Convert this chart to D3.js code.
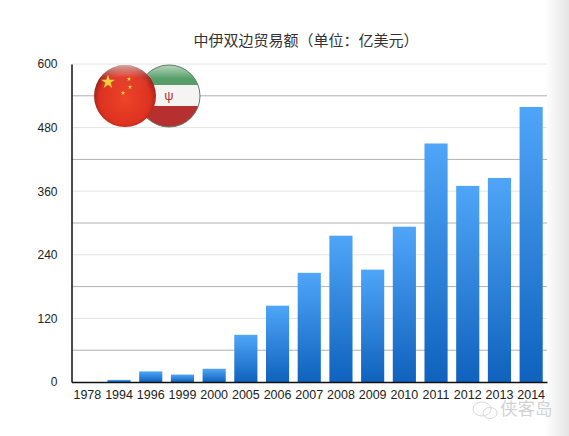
<!DOCTYPE html>
<html>
<head>
<meta charset="utf-8" />
<title>中伊双边贸易额</title>
<script src="https://d3js.org/d3.v7.min.js"></script>
<style>
	html, body { margin: 0; padding: 0; background: #fff; overflow: hidden; }
	text { font-family: "Liberation Sans", "Noto Sans CJK SC", sans-serif; }
</style>
</head>
<body>
<svg id="chart" width="569" height="436"></svg>
<script>
var years = ['1978', '1994', '1996', '1999', '2000', '2005', '2006', '2007', '2008', '2009', '2010', '2011', '2012', '2013', '2014'];
var trade = [0, 4, 20, 14, 25, 89, 144, 206, 276, 212, 293, 450, 370, 385, 519];
var yTicks = [0, 120, 240, 360, 480, 600];
var darkLines = [60, 180, 300, 420, 540];
var lightLines = [120, 240, 360, 480, 600];

var svg = d3.select('#chart');
var defs = svg.append('defs');

var plotLeft = 71.5, plotRight = 547, plotTop = 64, plotBottom = 382;
var x = d3.scaleBand().domain(years).range([plotLeft, plotRight]).paddingInner(0.27).paddingOuter(0.135);
var y = d3.scaleLinear().domain([0, 600]).range([plotBottom, plotTop]);

function gradient(id, stops, x2, y2) {
	var g = defs.append('linearGradient').attr('id', id)
		.attr('x1', 0).attr('y1', 0).attr('x2', x2).attr('y2', y2);
	stops.forEach(function (s) {
		g.append('stop').attr('offset', s[0]).attr('stop-color', s[1]).attr('stop-opacity', s[2] === undefined ? 1 : s[2]);
	});
}

gradient('barFill', [[0, '#4fa6f8'], [1, '#0f62bd']], 0, 1);
gradient('strip', [[0, '#ffffff'], [1, '#e4e4e4']], 1, 0);
gradient('gloss', [[0, '#ffffff', 0.6], [0.45, '#ffffff', 0.05], [1, '#ffffff', 0]], 0, 1);

var cnGlow = defs.append('radialGradient').attr('id', 'cnBall').attr('cx', 0.5).attr('cy', 0.55).attr('r', 0.55);
cnGlow.append('stop').attr('offset', 0).attr('stop-color', '#ee4429');
cnGlow.append('stop').attr('offset', 0.75).attr('stop-color', '#dc3220');
cnGlow.append('stop').attr('offset', 1).attr('stop-color', '#8e1d18');

// grey strip down the right edge of the page
svg.append('rect').attr('x', 545).attr('y', 0).attr('width', 24).attr('height', 436).attr('fill', 'url(#strip)');

svg.append('text').attr('x', 306).attr('y', 46).attr('text-anchor', 'middle')
	.attr('font-size', 15).attr('fill', '#333').text('中伊双边贸易额（单位：亿美元）');

// grid
svg.append('g').selectAll('line').data(lightLines).enter().append('line')
	.attr('x1', plotLeft).attr('x2', plotRight).attr('y1', y).attr('y2', y)
	.attr('stroke', '#e4e4e4').attr('stroke-width', 1);
svg.append('g').selectAll('line').data(darkLines).enter().append('line')
	.attr('x1', plotLeft).attr('x2', plotRight).attr('y1', y).attr('y2', y)
	.attr('stroke', '#b0b0b0').attr('stroke-width', 1);

// bars
svg.append('g').selectAll('rect').data(trade).enter().append('rect')
	.attr('x', function (d, i) { return x(years[i]); })
	.attr('y', y)
	.attr('width', x.bandwidth())
	.attr('height', function (d) { return plotBottom - y(d); })
	.attr('fill', 'url(#barFill)');

// axes
var yAxis = d3.axisLeft(y).tickValues(yTicks).tickSize(0).tickPadding(14);
var yG = svg.append('g').attr('transform', 'translate(' + plotLeft + ',0)').call(yAxis);
yG.select('.domain').attr('stroke', '#111').attr('stroke-width', 1.5);
yG.selectAll('text').attr('font-size', 12).attr('fill', '#222').style('font-family', '"Liberation Sans", sans-serif');

var xAxis = d3.axisBottom(x).tickSize(0).tickPadding(8);
var xG = svg.append('g').attr('transform', 'translate(0,' + plotBottom + ')').call(xAxis);
xG.select('.domain').attr('stroke', '#111').attr('stroke-width', 1.5);
xG.selectAll('text').attr('font-size', 12.5).attr('fill', '#222').style('font-family', '"Liberation Sans", sans-serif');

// Iran flag
var iran = svg.append('g');
defs.append('clipPath').attr('id', 'irClip').append('circle').attr('cx', 169).attr('cy', 96).attr('r', 31);
var irFlag = iran.append('g').attr('clip-path', 'url(#irClip)');
irFlag.append('rect').attr('x', 138).attr('y', 65).attr('width', 62).attr('height', 20).attr('fill', '#4f9a63');
irFlag.append('rect').attr('x', 138).attr('y', 85).attr('width', 62).attr('height', 21).attr('fill', '#f6f4f2');
irFlag.append('rect').attr('x', 138).attr('y', 106).attr('width', 62).attr('height', 21).attr('fill', '#b5302e');
irFlag.append('rect').attr('x', 138).attr('y', 65).attr('width', 62).attr('height', 30).attr('fill', 'url(#gloss)');
iran.append('text').attr('x', 169).attr('y', 100).attr('text-anchor', 'middle')
	.attr('font-size', 13).attr('fill', '#b5302e').text('ψ');
iran.append('circle').attr('cx', 169).attr('cy', 96).attr('r', 31)
	.attr('fill', 'none').attr('stroke', '#5f7f66').attr('stroke-width', 1);

// China flag
var china = svg.append('g');
china.append('circle').attr('cx', 125).attr('cy', 96).attr('r', 31).attr('fill', 'url(#cnBall)');
china.append('ellipse').attr('cx', 125).attr('cy', 79).attr('rx', 25).attr('ry', 14).attr('fill', 'url(#gloss)');
var star = d3.symbol().type(d3.symbolStar);
[[108, 82, 60], [129, 79, 7], [130, 87, 7], [123, 93, 7]].forEach(function (s) {
	china.append('path').attr('d', star.size(s[2])())
		.attr('transform', 'translate(' + s[0] + ',' + s[1] + ')')
		.attr('fill', '#f2d03a');
});

// watermark
var mark = svg.append('g').attr('stroke', '#d8d8d8').attr('fill', 'none').attr('stroke-width', 1);
mark.append('ellipse').attr('cx', 482).attr('cy', 409).attr('rx', 9).attr('ry', 7);
mark.append('ellipse').attr('cx', 490).attr('cy', 413).attr('rx', 7).attr('ry', 5.5);
svg.append('text').attr('x', 500).attr('y', 415).attr('font-size', 17.5).attr('fill', '#d2d2d2').text('侠客岛');
</script>
</body>
</html>
